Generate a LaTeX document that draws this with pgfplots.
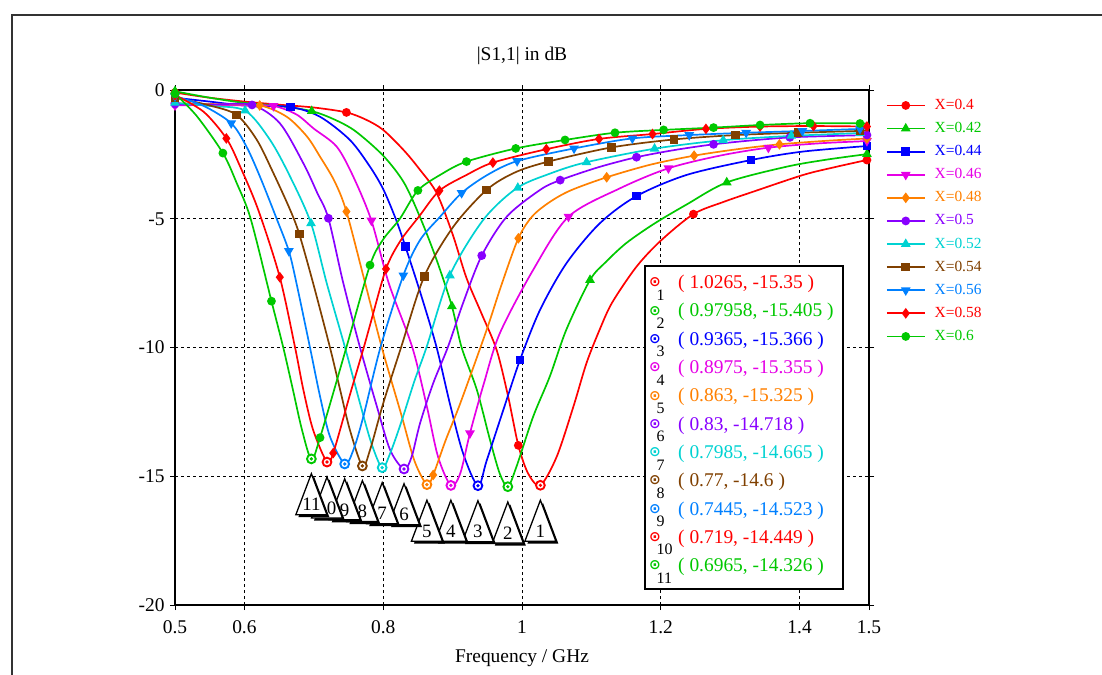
\documentclass[border=0pt]{standalone}
\usepackage{pgfplots}
\pgfplotsset{compat=1.18}
\usepackage{fontspec}
\setmainfont{Liberation Serif}
\newfontfamily\dejavu{DejaVu Sans}

\definecolor{cRed}{RGB}{255,0,0}
\definecolor{cGreen}{RGB}{0,200,0}
\definecolor{cBlue}{RGB}{0,0,255}
\definecolor{cMag}{RGB}{230,0,230}
\definecolor{cOrange}{RGB}{255,128,0}
\definecolor{cPurple}{RGB}{136,0,255}
\definecolor{cCyan}{RGB}{0,210,210}
\definecolor{cBrown}{RGB}{128,64,0}
\definecolor{cDodger}{RGB}{0,128,255}

\pgfdeclareplotmark{tri}{%
  \pgfsetfillcolor{black}%
  \pgfpathmoveto{\pgfpoint{2.5bp}{-2.5bp}}%
  \pgfpathlineto{\pgfpoint{-13bp}{-43.5bp}}%
  \pgfpathlineto{\pgfpoint{18bp}{-43.5bp}}%
  \pgfpathclose
  \pgfusepath{fill}%
  \pgfsetfillcolor{white}%
  \pgfpathmoveto{\pgfpoint{0bp}{0bp}}%
  \pgfpathlineto{\pgfpoint{-15.5bp}{-41bp}}%
  \pgfpathlineto{\pgfpoint{15.5bp}{-41bp}}%
  \pgfpathclose
  \pgfusepath{fill,stroke}%
}
\pgfdeclareplotmark{cdot}{%
  \pgfpathcircle{\pgfpointorigin}{4.4bp}%
  \pgfusepath{fill,stroke}%
  \pgfpathcircle{\pgfpointorigin}{0.5bp}%
  \pgfusepath{stroke}%
}

\begin{document}
\begin{tikzpicture}
\path[use as bounding box] (0bp,0bp) rectangle (1102bp,-675bp);
\draw[line width=2bp, black!80] (12bp,-690bp) -- (12bp,-15bp) -- (1115bp,-15bp);

\begin{axis}[
  at={(175bp,-605bp)}, anchor=south west,
  width=694bp, height=515bp, scale only axis,
  xmin=0.5, xmax=1.5, ymin=-20, ymax=0,
  xtick={0.5,0.6,0.8,1,1.2,1.4,1.5},
  xticklabels={0.5,0.6,0.8,1,1.2,1.4,1.5},
  ytick={-20,-15,-10,-5,0},
  yticklabels={-20,-15,-10,-5,0},
  /pgf/number format/assume math mode=true,
  grid=major,
  major grid style={black, line width=0.7bp, dash pattern=on 3bp off 3bp},
  axis line style={line width=1.2bp},
  tick align=outside, major tick length=5bp,
  tick style={black, line width=0.8bp},
  ticklabel style={font=\fontsize{19.5}{21}\selectfont},
  xticklabel shift=7bp,
  yticklabel shift=2bp,
  legend image code/.code={%
    \draw[#1, mark=none, line width=1.8bp] (0bp,0bp) -- (38bp,0bp);
    \draw[#1, only marks] plot coordinates {(19bp,0bp)};},
  legend style={at={(1.024,0.984)}, anchor=north west, draw=none, fill=none,
    inner sep=0pt, font=\fontsize{15.5}{17}\selectfont, row sep=9.1bp, column sep=9bp,
    nodes={inner sep=0pt, text height=11bp, text depth=3bp}},
  legend cell align=left,
  every axis plot/.append style={line width=1.7bp},
]

% ---- curves ----
\addplot[cRed, smooth, forget plot] coordinates {
(0.5,-0.1)(0.55,-0.3)(0.6,-0.45)(0.65,-0.57)(0.7,-0.68)(0.747,-0.87)(0.775,-1.15)(0.8,-1.55)
(0.83,-2.35)(0.853,-3.1)(0.877,-4.0)(0.9,-5.6)(0.92,-7.3)(0.942,-8.7)(0.9635,-10.1)(0.98,-11.9)
(0.9947,-13.8)(1.009,-14.9)(1.0265,-15.35)(1.05,-14.24)(1.074,-12.3)(1.093,-10.6)(1.112,-9.3)
(1.13,-8.25)(1.165,-6.86)(1.2,-5.85)(1.247,-4.82)(1.29,-4.35)(1.333,-3.95)(1.405,-3.3)(1.45,-3.0)(1.5,-2.7)};
\addplot[cGreen, smooth, forget plot] coordinates {
(0.5,-0.05)(0.55,-0.3)(0.6,-0.5)(0.65,-0.62)(0.697,-0.82)(0.73,-1.15)(0.76,-1.6)(0.8,-2.55)
(0.83,-3.6)(0.854,-5.0)(0.877,-6.6)(0.899,-8.4)(0.913,-10.0)(0.935,-11.65)(0.954,-13.6)(0.968,-14.9)
(0.9796,-15.4)(0.992,-14.63)(1.016,-12.69)(1.04,-11.13)(1.064,-9.3)(1.098,-7.38)(1.12,-6.7)(1.15,-5.95)
(1.19,-5.2)(1.237,-4.45)(1.295,-3.59)(1.381,-2.98)(1.44,-2.7)(1.5,-2.48)};
\addplot[cBlue, smooth, forget plot] coordinates {
(0.5,-0.3)(0.55,-0.45)(0.6,-0.6)(0.666,-0.66)(0.709,-1.04)(0.752,-1.94)(0.781,-2.98)(0.8,-3.85)
(0.818,-5.0)(0.832,-6.08)(0.855,-8.0)(0.877,-10.0)(0.896,-12.17)(0.915,-14.1)(0.9365,-15.37)
(0.949,-14.4)(0.973,-12.43)(0.997,-10.49)(1.026,-8.54)(1.064,-6.73)(1.112,-5.18)(1.165,-4.12)
(1.237,-3.3)(1.33,-2.72)(1.405,-2.39)(1.5,-2.17)};
\addplot[cMag, smooth, forget plot] coordinates {
(0.5,-0.6)(0.55,-0.58)(0.6,-0.6)(0.642,-0.62)(0.675,-0.95)(0.7,-1.5)(0.733,-2.2)(0.757,-3.37)
(0.783,-5.07)(0.808,-7.5)(0.842,-10.0)(0.863,-12.3)(0.879,-14.24)(0.8975,-15.36)(0.911,-14.89)
(0.925,-13.33)(0.945,-11.4)(0.968,-9.45)(1.016,-6.99)(1.067,-4.92)(1.141,-3.82)(1.211,-3.04)
(1.285,-2.55)(1.355,-2.24)(1.429,-2.07)(1.5,-1.98)};
\addplot[cOrange, smooth, forget plot] coordinates {
(0.5,-0.52)(0.56,-0.55)(0.622,-0.6)(0.661,-1.04)(0.69,-1.8)(0.709,-2.59)(0.73,-3.55)(0.747,-4.72)
(0.774,-7.5)(0.798,-10.0)(0.826,-12.6)(0.845,-14.4)(0.863,-15.33)(0.872,-14.95)(0.89,-13.6)
(0.911,-12.17)(0.949,-9.32)(0.97,-7.6)(0.9947,-5.76)(1.015,-4.9)(1.04,-4.35)(1.07,-3.9)(1.122,-3.39)
(1.185,-2.9)(1.248,-2.55)(1.31,-2.3)(1.371,-2.11)(1.44,-1.97)(1.5,-1.88)};
\addplot[cPurple, smooth, forget plot] coordinates {
(0.5,-0.55)(0.555,-0.56)(0.611,-0.58)(0.651,-1.29)(0.685,-2.85)(0.705,-4.0)(0.721,-4.98)
(0.7425,-7.5)(0.7666,-10.0)(0.791,-12.3)(0.81,-13.98)(0.83,-14.72)(0.841,-14.24)(0.853,-12.95)
(0.872,-11.39)(0.893,-10.0)(0.915,-8.28)(0.942,-6.43)(0.978,-4.92)(1.026,-3.88)(1.055,-3.5)
(1.11,-3.0)(1.165,-2.61)(1.22,-2.33)(1.276,-2.11)(1.33,-1.96)(1.386,-1.84)(1.44,-1.79)(1.5,-1.75)};
\addplot[cCyan, smooth, forget plot] coordinates {
(0.5,-0.5)(0.55,-0.62)(0.601,-0.8)(0.637,-1.94)(0.666,-3.37)(0.696,-5.18)(0.7186,-7.5)(0.745,-10.0)
(0.7666,-12.17)(0.783,-13.72)(0.7985,-14.67)(0.81,-14.11)(0.826,-12.9)(0.845,-11.3)(0.8627,-9.97)
(0.896,-7.2)(0.944,-5.05)(0.992,-3.82)(1.04,-3.25)(1.092,-2.81)(1.193,-2.27)(1.29,-1.95)(1.39,-1.78)(1.5,-1.66)};
\addplot[cBrown, smooth, forget plot] coordinates {
(0.5,-0.3)(0.55,-0.6)(0.589,-0.97)(0.618,-1.94)(0.642,-3.24)(0.666,-4.66)(0.679,-5.59)(0.699,-7.5)
(0.7233,-10.0)(0.738,-11.65)(0.752,-13.2)(0.77,-14.6)(0.781,-13.98)(0.80,-12.17)(0.8257,-10.0)
(0.859,-7.25)(0.901,-5.31)(0.949,-3.88)(0.99,-3.2)(1.038,-2.78)(1.129,-2.23)(1.219,-1.92)(1.308,-1.75)
(1.398,-1.66)(1.5,-1.58)};
\addplot[cDodger, smooth, forget plot] coordinates {
(0.5,-0.25)(0.54,-0.6)(0.581,-1.29)(0.603,-2.2)(0.6225,-3.37)(0.6465,-5.0)(0.664,-6.25)(0.675,-7.5)
(0.6945,-10.0)(0.709,-11.9)(0.7233,-13.46)(0.7445,-14.52)(0.757,-13.98)(0.7713,-12.69)(0.796,-10.0)
(0.829,-7.2)(0.853,-5.83)(0.882,-4.92)(0.913,-4.0)(0.95,-3.3)(0.993,-2.76)(1.075,-2.27)(1.159,-1.88)
(1.241,-1.75)(1.323,-1.66)(1.404,-1.59)(1.5,-1.5)};
\addplot[cRed, smooth, forget plot] coordinates {
(0.5,-0.2)(0.541,-0.84)(0.574,-1.88)(0.594,-2.98)(0.62,-4.66)(0.651,-7.27)(0.673,-10.0)(0.685,-11.65)
(0.699,-13.2)(0.719,-14.45)(0.728,-14.1)(0.752,-11.84)(0.772,-10.0)(0.781,-9.13)(0.804,-6.95)
(0.825,-5.85)(0.852,-4.9)(0.881,-3.91)(0.92,-3.3)(0.958,-2.82)(1.035,-2.3)(1.111,-1.9)(1.188,-1.71)
(1.265,-1.51)(1.343,-1.42)(1.42,-1.4)(1.5,-1.42)};
\addplot[cGreen, smooth, forget plot] coordinates {
(0.5,-0.15)(0.531,-1.0)(0.569,-2.45)(0.589,-3.62)(0.609,-5.0)(0.639,-8.2)(0.656,-10.0)(0.67,-11.65)
(0.683,-13.2)(0.6965,-14.33)(0.709,-13.5)(0.7469,-10.0)(0.781,-6.8)(0.8,-5.8)(0.824,-5.0)(0.85,-3.9)
(0.885,-3.25)(0.92,-2.78)(0.991,-2.27)(1.062,-1.94)(1.134,-1.66)(1.204,-1.55)(1.276,-1.46)(1.343,-1.36)
(1.415,-1.29)(1.5,-1.3)};

% ---- curve markers ----
\addplot[cRed, only marks, mark=*, mark size=3.5bp, forget plot] coordinates {
(0.5,-0.1)(0.747,-0.87)(0.9947,-13.8)(1.247,-4.82)(1.497,-2.72)};
\addplot[cGreen, only marks, mark=triangle*, mark size=4bp, forget plot] coordinates {
(0.5,-0.05)(0.697,-0.82)(0.899,-8.4)(1.098,-7.38)(1.295,-3.59)(1.497,-2.49)};
\addplot[cBlue, only marks, mark=square*, mark size=3.5bp, forget plot] coordinates {
(0.5,-0.3)(0.666,-0.66)(0.832,-6.08)(0.997,-10.49)(1.165,-4.12)(1.33,-2.72)(1.497,-2.18)};
\addplot[cMag, only marks, mark=triangle*, mark size=4bp, mark options={rotate=180}, forget plot] coordinates {
(0.5,-0.6)(0.642,-0.62)(0.783,-5.07)(0.925,-13.33)(1.067,-4.92)(1.211,-3.04)(1.355,-2.24)(1.497,-1.98)};
\addplot[cOrange, only marks, mark=diamond*, mark size=4bp, forget plot] coordinates {
(0.5,-0.52)(0.622,-0.6)(0.747,-4.72)(0.872,-14.95)(0.9947,-5.76)(1.122,-3.39)(1.248,-2.55)(1.371,-2.11)(1.497,-1.88)};
\addplot[cPurple, only marks, mark=*, mark size=3.5bp, forget plot] coordinates {
(0.5,-0.55)(0.611,-0.58)(0.721,-4.98)(0.942,-6.43)(1.055,-3.5)(1.165,-2.61)(1.276,-2.11)(1.386,-1.84)(1.497,-1.75)};
\addplot[cCyan, only marks, mark=triangle*, mark size=4bp, forget plot] coordinates {
(0.5,-0.5)(0.601,-0.8)(0.696,-5.18)(0.896,-7.2)(0.994,-3.8)(1.093,-2.81)(1.191,-2.28)(1.29,-1.95)(1.388,-1.78)(1.487,-1.67)};
\addplot[cBrown, only marks, mark=square*, mark size=3.5bp, forget plot] coordinates {
(0.5,-0.3)(0.589,-0.97)(0.679,-5.59)(0.859,-7.25)(0.949,-3.88)(1.038,-2.78)(1.129,-2.23)(1.219,-1.92)(1.308,-1.75)(1.398,-1.66)(1.487,-1.59)};
\addplot[cDodger, only marks, mark=triangle*, mark size=4bp, mark options={rotate=180}, forget plot] coordinates {
(0.5,-0.25)(0.581,-1.29)(0.664,-6.25)(0.829,-7.2)(0.913,-4.0)(0.993,-2.76)(1.075,-2.27)(1.159,-1.88)(1.241,-1.75)(1.323,-1.66)(1.404,-1.59)(1.487,-1.51)};
\addplot[cRed, only marks, mark=diamond*, mark size=4bp, forget plot] coordinates {
(0.5,-0.2)(0.574,-1.88)(0.651,-7.27)(0.728,-14.1)(0.804,-6.95)(0.881,-3.91)(0.958,-2.82)(1.035,-2.3)(1.111,-1.9)(1.188,-1.71)(1.265,-1.51)(1.343,-1.42)(1.42,-1.4)(1.497,-1.42)};
\addplot[cGreen, only marks, mark=*, mark size=3.5bp, forget plot] coordinates {
(0.5,-0.15)(0.569,-2.45)(0.639,-8.2)(0.709,-13.5)(0.781,-6.8)(0.85,-3.9)(0.92,-2.78)(0.991,-2.27)(1.062,-1.94)(1.134,-1.66)(1.204,-1.55)(1.276,-1.46)(1.343,-1.36)(1.415,-1.29)(1.487,-1.3)};

% ---- minimum markers ----
\pgfplotsset{minmark/.style={only marks, mark=cdot, forget plot, mark options={fill=white, draw=#1, line width=1.9bp}}}
\addplot[minmark=cRed] coordinates {(1.0265,-15.35)};
\addplot[minmark=cGreen] coordinates {(0.97958,-15.405)};
\addplot[minmark=cBlue] coordinates {(0.9365,-15.366)};
\addplot[minmark=cMag] coordinates {(0.8975,-15.355)};
\addplot[minmark=cOrange] coordinates {(0.863,-15.325)};
\addplot[minmark=cPurple] coordinates {(0.83,-14.718)};
\addplot[minmark=cCyan] coordinates {(0.7985,-14.665)};
\addplot[minmark=cBrown] coordinates {(0.77,-14.6)};
\addplot[minmark=cDodger] coordinates {(0.7445,-14.523)};
\addplot[minmark=cRed] coordinates {(0.719,-14.449)};
\addplot[minmark=cGreen] coordinates {(0.6965,-14.326)};

% ---- triangle labels ----
\addplot[only marks, mark=tri, mark options={draw=black, line width=1.3bp}, forget plot,
  point meta=explicit symbolic, nodes near coords,
  every node near coord/.append style={anchor=center, yshift=-31bp, text=black,
    font=\fontsize{19}{20}\selectfont, inner sep=0pt}]
coordinates {
(1.0265,-15.93)[1] (0.97958,-16.0)[2] (0.9365,-15.95)[3] (0.8975,-15.93)[4] (0.863,-15.93)[5]
(0.83,-15.29)[6] (0.7985,-15.25)[7] (0.77,-15.17)[8] (0.7445,-15.1)[9] (0.719,-15.03)[10] (0.6965,-14.9)[11]};

% ---- legend ----
\addlegendimage{cRed, mark=*, mark size=3.5bp}
\addlegendentry{\textcolor{cRed}{X=0.4}}
\addlegendimage{cGreen, mark=triangle*, mark size=4bp}
\addlegendentry{\textcolor{cGreen}{X=0.42}}
\addlegendimage{cBlue, mark=square*, mark size=3.5bp}
\addlegendentry{\textcolor{cBlue}{X=0.44}}
\addlegendimage{cMag, mark=triangle*, mark size=4bp, mark options={rotate=180}}
\addlegendentry{\textcolor{cMag}{X=0.46}}
\addlegendimage{cOrange, mark=diamond*, mark size=4bp}
\addlegendentry{\textcolor{cOrange}{X=0.48}}
\addlegendimage{cPurple, mark=*, mark size=3.5bp}
\addlegendentry{\textcolor{cPurple}{X=0.5}}
\addlegendimage{cCyan, mark=triangle*, mark size=4bp}
\addlegendentry{\textcolor{cCyan}{X=0.52}}
\addlegendimage{cBrown, mark=square*, mark size=3.5bp}
\addlegendentry{\textcolor{cBrown}{X=0.54}}
\addlegendimage{cDodger, mark=triangle*, mark size=4bp, mark options={rotate=180}}
\addlegendentry{\textcolor{cDodger}{X=0.56}}
\addlegendimage{cRed, mark=diamond*, mark size=4bp}
\addlegendentry{\textcolor{cRed}{X=0.58}}
\addlegendimage{cGreen, mark=*, mark size=3.5bp}
\addlegendentry{\textcolor{cGreen}{X=0.6}}
\end{axis}

% titles
\node[font=\fontsize{19.5}{21}\selectfont] at (522bp,-56bp) {|S1,1| in dB};
\node[font=\fontsize{19.5}{21}\selectfont] at (522bp,-658bp) {Frequency / GHz};

% marker readout box
\draw[line width=1.5bp, fill=white] (645bp,-266bp) rectangle (843bp,-589bp);
\foreach \i/\c/\t in {1/cRed/{( 1.0265, -15.35 )},2/cGreen/{( 0.97958, -15.405 )},3/cBlue/{( 0.9365, -15.366 )},
  4/cMag/{( 0.8975, -15.355 )},5/cOrange/{( 0.863, -15.325 )},6/cPurple/{( 0.83, -14.718 )},
  7/cCyan/{( 0.7985, -14.665 )},8/cBrown/{( 0.77, -14.6 )},9/cDodger/{( 0.7445, -14.523 )},
  10/cRed/{( 0.719, -14.449 )},11/cGreen/{( 0.6965, -14.326 )}}{
  \pgfmathsetmacro{\yy}{-284-28.3*(\i-1)}
  \node[anchor=west, inner sep=0pt, text=\c, font=\fontsize{19.5}{21}\selectfont] at (678bp,\yy bp) {\t};
  \node[inner sep=0pt, text=\c, font=\dejavu\bfseries\fontsize{14}{14}\selectfont] at (655bp,\yy bp+1.5bp) {⊙};
  \node[anchor=west, inner sep=0pt, font=\fontsize{16}{16}\selectfont] at (656.5bp,\yy bp-11bp) {\i};
}
\end{tikzpicture}
\end{document}
